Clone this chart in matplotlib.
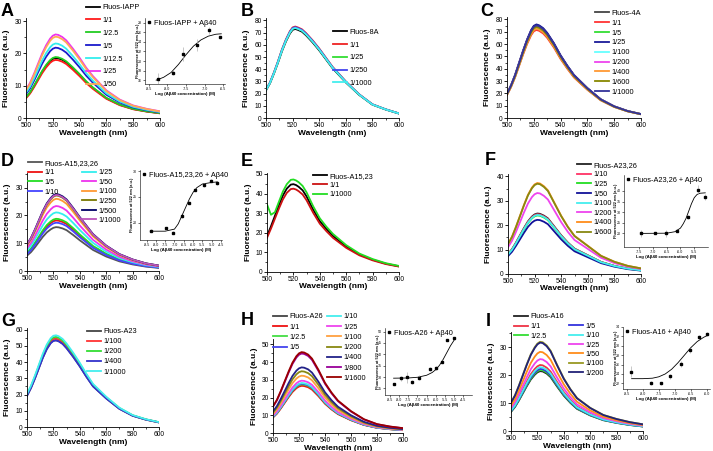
import matplotlib.pyplot as plt
from matplotlib.lines import Line2D
from matplotlib.ticker import MultipleLocator

plt.rcParams['font.family'] = ['Liberation Sans', 'DejaVu Sans']

W, H = 713, 451
fig = plt.figure(figsize=(W / 100, H / 100), dpi=100)

# wavelengths (nm) where the spectra were read
wl = [500, 503, 506, 509, 512, 515, 518, 520, 522, 524, 527, 530, 535, 540, 545, 550, 560, 570, 580, 590, 600]

# normalised spectrum shape of each panel (peak = 1)
a_shape = [0.34, 0.42, 0.53, 0.65, 0.77, 0.87, 0.95, 0.985, 1.0, 0.995, 0.97, 0.93, 0.83, 0.72, 0.60, 0.50, 0.33, 0.22, 0.15, 0.11, 0.08]
b_shape = [0.31, 0.39, 0.50, 0.62, 0.75, 0.86, 0.95, 0.99, 1.0, 0.99, 0.97, 0.93, 0.85, 0.76, 0.66, 0.56, 0.40, 0.26, 0.15, 0.095, 0.05]
c_shape = [0.26, 0.35, 0.46, 0.59, 0.72, 0.84, 0.94, 0.985, 1.0, 0.99, 0.96, 0.91, 0.80, 0.67, 0.56, 0.46, 0.32, 0.20, 0.125, 0.075, 0.042]
d_shape = [0.35, 0.43, 0.54, 0.66, 0.78, 0.88, 0.95, 0.985, 1.0, 0.995, 0.97, 0.93, 0.82, 0.70, 0.59, 0.48, 0.33, 0.22, 0.15, 0.10, 0.07]
e_shape = [0.41, 0.52, 0.64, 0.76, 0.87, 0.95, 0.995, 1.0, 0.99, 0.97, 0.93, 0.86, 0.71, 0.58, 0.49, 0.41, 0.29, 0.20, 0.14, 0.095, 0.065]
f_shape = [0.33, 0.41, 0.52, 0.64, 0.76, 0.87, 0.95, 0.985, 1.0, 0.995, 0.965, 0.92, 0.78, 0.64, 0.52, 0.42, 0.31, 0.20, 0.135, 0.09, 0.062]
g_shape = [0.36, 0.45, 0.56, 0.68, 0.80, 0.90, 0.97, 0.995, 1.0, 0.99, 0.96, 0.91, 0.81, 0.70, 0.58, 0.47, 0.33, 0.21, 0.13, 0.085, 0.053]
h_shape = [0.33, 0.41, 0.52, 0.64, 0.76, 0.87, 0.95, 0.985, 1.0, 0.995, 0.97, 0.92, 0.78, 0.62, 0.50, 0.40, 0.27, 0.17, 0.11, 0.08, 0.06]
i_shape = [0.32, 0.40, 0.51, 0.63, 0.75, 0.86, 0.94, 0.98, 1.0, 0.995, 0.96, 0.90, 0.74, 0.59, 0.47, 0.37, 0.26, 0.18, 0.135, 0.10, 0.075]

# legend labels and peak intensities
a_labels = ['Fluos-IAPP', '1/1', '1/2.5', '1/5', '1/12.5', '1/25', '1/50']
a_peaks = [18.6, 18.0, 18.9, 21.8, 23.1, 25.9, 25.2]
b_labels = ['Fluos-8A', '1/1', '1/25', '1/250', '1/1000']
b_peaks = [73.0, 75.0, 74.0, 74.5, 73.8]
c_labels = ['Fluos-4A', '1/1', '1/5', '1/25', '1/100', '1/200', '1/400', '1/600', '1/1000']
c_peaks = [75.5, 71.5, 73.0, 76.0, 74.0, 74.5, 72.5, 74.0, 75.2]
d_labels = ['Fluos-A15,23,26', '1/1', '1/5', '1/10', '1/25', '1/50', '1/100', '1/250', '1/500', '1/1000']
d_peaks = [15.8, 18.2, 18.8, 17.4, 21.1, 23.4, 26.0, 27.2, 27.7, 27.4]
e_labels = ['Fluos-A15,23', '1/1', '1/1000']
e_peaks = [44.8, 42.5]
e_1000 = [34.5, 29.2, 30.5, 35.8, 41.0, 44.8, 47.0, 47.2, 46.7, 45.8, 43.9, 40.6, 33.5, 27.4, 23.1, 19.4, 13.7, 9.4, 6.6, 4.5, 3.1]
f_labels = ['Fluos-A23,26', '1/10', '1/25', '1/50', '1/100', '1/200', '1/400', '1/600']
f_peaks = [24.8, 24.5, 24.0, 22.2, 24.2, 33.2, 37.3, 37.0]
g_labels = ['Fluos-A23', '1/100', '1/200', '1/400', '1/1000']
g_peaks = [53.5, 54.5, 55.5, 53.3, 56.5]
h_labels = ['Fluos-A26', '1/1', '1/2.5', '1/5', '1/10', '1/25', '1/100', '1/200', '1/400', '1/800', '1/1600']
h_peaks = [27.2, 26.6, 27.4, 27.8, 28.2, 29.5, 32.3, 34.8, 37.0, 44.8, 45.6]
i_labels = ['Fluos-A16', '1/1', '1/2.5', '1/5', '1/10', '1/25', '1/50', '1/100', '1/200']
i_peaks = [21.4, 23.6, 21.8, 22.2, 22.8, 25.7, 28.3, 31.9, 31.6]

# inset titration data: log[Abeta40], fluorescence at 522 nm, error, fitted curve
a_logc = [-8.26, -7.85, -7.58, -7.19, -6.89, -6.59]
a_fl = [16.3, 17.6, 21.5, 23.3, 26.4, 25.0]
a_err = [1.2, 0.6, 1.4, 1.3, 0.8, 0.3]
a_fit_x = [-8.3, -8.1, -7.9, -7.7, -7.5, -7.3, -7.1, -6.9, -6.7, -6.55]
a_fit_y = [16.0, 16.6, 17.6, 19.3, 21.3, 23.1, 24.4, 25.2, 25.6, 25.7]
d_logc = [-8.26, -7.43, -7.07, -6.59, -6.24, -5.91, -5.44, -5.04, -4.70]
d_fl = [18.5, 19.0, 18.1, 21.3, 23.9, 26.4, 27.3, 28.1, 27.6]
d_err = [0.3, 0.3, 0.3, 0.3, 0.3, 0.3, 0.3, 0.3, 0.3]
d_fit_x = [-8.3, -7.5, -7.0, -6.8, -6.6, -6.4, -6.2, -6.0, -5.8, -5.5, -5.0, -4.7]
d_fit_y = [18.4, 18.4, 18.8, 19.8, 21.4, 23.0, 24.6, 25.9, 26.8, 27.5, 27.8, 27.9]
f_logc = [-7.45, -6.93, -6.54, -6.13, -5.73, -5.37, -5.10]
f_fl = [20.0, 20.0, 20.0, 21.1, 27.8, 40.6, 37.2]
f_err = [1.5, 0.5, 1.8, 0.5, 1.0, 2.0, 1.5]
f_fit_x = [-7.45, -6.5, -6.2, -6.0, -5.9, -5.8, -5.7, -5.6, -5.5, -5.4, -5.3, -5.1]
f_fit_y = [20.0, 20.1, 20.8, 22.5, 24.5, 27.0, 30.5, 34.0, 36.8, 38.3, 38.9, 39.1]
h_logc = [-8.28, -7.90, -7.59, -7.28, -6.92, -6.32, -6.01, -5.68, -5.37, -5.01]
h_fl = [26.9, 29.4, 29.9, 27.9, 29.7, 33.5, 34.1, 36.8, 46.3, 47.1]
h_err = [0.5, 1.0, 2.5, 0.8, 1.0, 0.8, 0.8, 0.8, 0.6, 0.6]
h_fit_x = [-8.3, -7.5, -7.0, -6.5, -6.2, -6.0, -5.8, -5.6, -5.4, -5.2, -5.0]
h_fit_y = [29.5, 29.6, 29.9, 30.8, 32.0, 33.3, 35.2, 37.8, 40.8, 43.8, 46.3]
i_logc = [-8.37, -7.73, -7.44, -7.15, -6.80, -6.53, -6.23, -5.98]
i_fl = [24.5, 22.1, 22.0, 23.5, 26.1, 29.0, 31.9, 32.5]
i_err = [1.2, 0.4, 0.3, 0.6, 0.6, 0.6, 0.3, 0.4]
i_fit_x = [-8.35, -8.0, -7.7, -7.5, -7.3, -7.1, -6.9, -6.7, -6.5, -6.3, -6.1, -5.98]
i_fit_y = [23.0, 23.0, 23.1, 23.4, 24.0, 25.0, 26.4, 28.0, 29.6, 30.9, 31.8, 32.2]

# colours
a_col = ['black', '#ff1a1a', '#22cc22', '#1a1acc', '#33eeee', '#ee33ee', '#ffaa55']
b_col = ['black', '#ee2222', '#33dd33', '#4444ee', '#44eeee']
c_col = ['#444444', '#ff3333', '#33dd33', '#1a1a99', '#66ffff', '#ee44ee', '#ff9933', '#888800', '#333399']
d_col = ['#555555', '#ee1111', '#22dd22', '#4444ff', '#33eeee', '#ee33ee', '#ff9933', '#777700', '#000066', '#bb55bb']
e_col = ['black', '#cc1111', '#22dd22']
f_col = ['#222222', '#ff3366', '#22dd22', '#111199', '#44eeee', '#ee44ee', '#ff8c1a', '#888811']
g_col = ['#444444', '#ff3333', '#33dd33', '#3333cc', '#44eeee']
h_col = ['#444444', '#ee1111', '#44dd44', '#4444ee', '#44eeee', '#ee44ee', '#ffa040', '#888811', '#222288', '#990099', '#990000']
i_col = ['#222222', '#ee3344', '#33dd33', '#3333dd', '#44eeee', '#ee44ee', '#ff8c1a', '#999922', '#222277']

FS = 5.3  # legend font size (pt)


def px_axes(l, t, r, b):
    return fig.add_axes([l / W, 1 - b / H, (r - l) / W, (b - t) / H])


def spectra(rect, shape, peaks, colors, labels, ymax, ystep):
    ax = px_axes(*rect)
    lines = []
    for p, c, lab in zip(peaks, colors, labels):
        ln, = ax.plot(wl, [s * p for s in shape], color=c, lw=1.3, label=lab)
        lines.append(ln)
    ax.set_xlim(500, 600)
    ax.set_ylim(0, ymax)
    ax.set_xticks(range(500, 601, 20))
    ax.xaxis.set_minor_locator(MultipleLocator(10))
    ax.yaxis.set_major_locator(MultipleLocator(ystep))
    ax.yaxis.set_minor_locator(MultipleLocator(ystep / 2))
    for s in ['top', 'right']:
        ax.spines[s].set_visible(False)
    for s in ['left', 'bottom']:
        ax.spines[s].set_linewidth(0.6)
    ax.tick_params(labelsize=4.8, length=2, width=0.6, pad=1)
    ax.tick_params(which='minor', length=1.2, width=0.5)
    ax.set_xlabel('Wavelength (nm)', fontsize=6, fontweight='bold', va='center')
    ax.set_ylabel('Fluorescence (a.u.)', fontsize=6, fontweight='bold', va='center')
    wpx = rect[2] - rect[0]
    hpx = rect[3] - rect[1]
    ax.xaxis.set_label_coords(0.5, -15 / hpx)
    ax.yaxis.set_label_coords(-19 / wpx, 0.5)
    return ax, lines


def legend_col(lines, labels, x0, yc, sp):
    fs_px = FS * 100 / 72
    row_h = 0.94 * fs_px
    fig.legend(lines, labels, loc='upper left',
               bbox_to_anchor=(x0 / W, 1 - (yc - row_h / 2) / H),
               frameon=False, fontsize=FS, handlelength=1.85, handletextpad=0.4,
               labelspacing=(sp - row_h) / fs_px, borderpad=0, borderaxespad=0)


def inset(rect, x, y, err, fx, fy, xlim, ylim, xticks, yticks, title):
    ax = px_axes(*rect)
    ax.patch.set_alpha(0)
    ax.plot(fx, fy, color='black', lw=0.6)
    ax.errorbar(x, y, yerr=err, fmt='s', ms=2.0, color='black', ecolor='#b0b0b0',
                elinewidth=0.5, capsize=0)
    ax.set_xlim(*xlim)
    ax.set_ylim(*ylim)
    ax.set_xticks(xticks)
    ax.set_xticklabels(['%.1f' % v for v in xticks])
    ax.set_yticks(yticks)
    for s in ['top', 'right']:
        ax.spines[s].set_visible(False)
    for s in ['left', 'bottom']:
        ax.spines[s].set_linewidth(0.4)
    ax.tick_params(labelsize=2.6, length=1.2, width=0.4, pad=0.8)
    ax.set_xlabel('Log (A\u03b240 concentration) (M)', fontsize=3.2, fontweight='bold', labelpad=1)
    ax.set_ylabel('Fluorescence at 522 nm (a.u.)', fontsize=2.8, fontweight='bold', va='center')
    ax.yaxis.set_label_coords(-7.5 / (rect[2] - rect[0]), 0.5)
    proxy = Line2D([], [], marker='s', ls='', color='black', ms=2.0)
    ax.legend([proxy], [title], loc='upper left', frameon=False, fontsize=FS,
              handlelength=0.6, handletextpad=0.4, borderpad=0.15, borderaxespad=0.1)
    return ax


def letter(x, y, s):
    fig.text(x / W, 1 - y / H, s, fontsize=13, fontweight='bold', ha='left', va='top')


# A
ax, ln = spectra((26, 18, 160, 118), a_shape, a_peaks, a_col, a_labels, 31, 10)
legend_col(ln, a_labels, 86, 7.5, 12.6)
inset((145, 18, 225, 84), a_logc, a_fl, a_err, a_fit_x, a_fit_y, (-8.6, -6.45), (15.2, 29),
      [-8.5, -8.0, -7.5, -7.0, -6.5], [16, 18, 20, 22, 24, 26, 28], 'Fluos-IAPP + A\u03b240')
letter(1, 3, 'A')

# B
ax, ln = spectra((266, 18, 399, 118), b_shape, b_peaks, b_col, b_labels, 82, 10)
legend_col(ln, b_labels, 333, 32.3, 12.5)
letter(241, 3, 'B')

# C
ax, ln = spectra((507, 17, 641, 118), c_shape, c_peaks, c_col, c_labels, 82, 10)
legend_col(ln, c_labels, 595, 13.3, 9.6)
letter(480, 3, 'C')

# D
ax, ln = spectra((27, 173, 159, 271), d_shape, d_peaks, d_col, d_labels, 35.3, 10)
legend_col(ln[:4], d_labels[:4], 28, 163.0, 9.4)
legend_col(ln[4:], d_labels[4:], 82, 172.7, 9.3)
inset((140, 170, 222, 240), d_logc, d_fl, d_err, d_fit_x, d_fit_y, (-8.85, -4.45), (16.7, 30.2),
      [-8.5, -8.0, -7.5, -7.0, -6.5, -6.0, -5.5, -5.0, -4.5], [20, 25, 30], 'Fluos-A15,23,26 + A\u03b240')
letter(1, 153, 'D')

# E
ax, ln = spectra((267, 173, 399, 272), e_shape, e_peaks, e_col, e_labels, 50.5, 10)
g, = ax.plot(wl, e_1000, color=e_col[2], lw=1.3)
ln.append(g)
legend_col(ln, e_labels, 313, 176, 9.0)
letter(241, 153, 'E')

# F
ax, ln = spectra((508, 174, 641, 274), f_shape, f_peaks, f_col, f_labels, 41, 10)
legend_col(ln, f_labels, 577, 165, 9.4)
inset((624, 175, 708, 247), f_logc, f_fl, f_err, f_fit_x, f_fit_y, (-8.05, -5.0), (13.6, 47.5),
      [-7.5, -7.0, -6.5, -6.0, -5.5], [20, 25, 30, 35, 40], 'Fluos-A23,26 + A\u03b240')
letter(485, 152, 'F')

# G
ax, ln = spectra((27, 328, 159, 427), g_shape, g_peaks, g_col, g_labels, 61, 10)
legend_col(ln, g_labels, 87, 331.7, 9.8)
letter(1, 313, 'G')

# H
ax, ln = spectra((273, 339, 403, 433), h_shape, h_peaks, h_col, h_labels, 53, 10)
legend_col(ln[:4], h_labels[:4], 273, 316.7, 10)
legend_col(ln[4:], h_labels[4:], 327, 316.7, 10)
inset((385, 328, 472, 395), h_logc, h_fl, h_err, h_fit_x, h_fit_y, (-8.77, -4.03), (22.1, 51.6),
      [-8.5, -8.0, -7.5, -7.0, -6.5, -6.0, -5.5, -5.0, -4.5], [25, 30, 35, 40, 45, 50], 'Fluos-A26 + A\u03b240')
letter(241, 312, 'H')

# I
ax, ln = spectra((511, 332, 643, 431), i_shape, i_peaks, i_col, i_labels, 35.4, 10)
legend_col(ln[:3], i_labels[:3], 514, 316.7, 9.5)
legend_col(ln[3:], i_labels[3:], 569, 326, 9.2)
inset((623, 327, 710, 389), i_logc, i_fl, i_err, i_fit_x, i_fit_y, (-8.62, -5.9), (20.8, 34),
      [-8.5, -8.0, -7.5, -7.0, -6.5, -6.0], [22, 24, 26, 28, 30, 32, 34], 'Fluos-A16 + A\u03b240')
letter(486, 313, 'I')

fig.savefig('out.png', dpi=100)
